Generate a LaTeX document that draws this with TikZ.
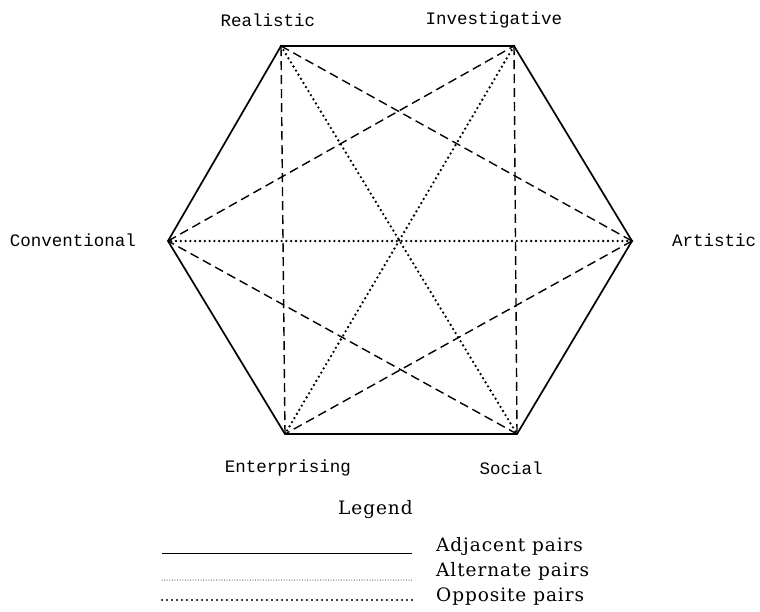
\documentclass[tikz,border=0pt]{standalone}
\usepackage{fontspec}
\newfontfamily\typefont{Liberation Mono}
\newfontfamily\legfont[LetterSpace=5]{DejaVu Serif}
\begin{document}
\begin{tikzpicture}[x=1pt,y=-1pt,
  adj/.style={line width=1.7pt},
  alt/.style={line width=1.4pt, dash pattern=on 9pt off 5pt},
  opp/.style={line width=2.6pt, line cap=round, dash pattern=on 0pt off 4.8pt},
  finedot/.style={line width=1pt, line cap=round, dash pattern=on 0pt off 2.6pt},
  thinline/.style={line width=1pt},
  lab/.style={font=\typefont\fontsize{17.5}{20}\selectfont, inner sep=0pt},
  legtext/.style={font=\legfont\fontsize{18.5}{20}\selectfont, anchor=base west, inner sep=0pt}]
\useasboundingbox (0,0) rectangle (760,611);
\coordinate (R) at (281,46);
\coordinate (I) at (514,46);
\coordinate (A) at (632,241);
\coordinate (S) at (517,434);
\coordinate (E) at (285,434);
\coordinate (C) at (168,241);
% adjacent
\draw[adj] (R)--(I)--(A)--(S)--(E)--(C)--cycle;
% alternate
\draw[alt] (R)--(A);
\draw[alt] (I)--(S);
\draw[alt] (A)--(E);
\draw[alt] (S)--(C);
\draw[alt] (E)--(R);
\draw[alt] (C)--(I);
% opposite
\draw[opp] (R)--(S);
\draw[opp] (I)--(E);
\draw[opp] (A)--(C);
% labels
\node[lab] (lR) at (268,20) {Realistic};
\node[lab] (lI) at (494,20) {Investigative};
\node[lab] (lC) at (73,240) {Conventional};
\node[lab] (lA) at (714,240) {Artistic};
\node[lab] (lE) at (288,468) {Enterprising};
\node[lab] (lS) at (511,468) {Social};
% legend
\node[legtext] (leg) at (338,514) {Legend};
\node[legtext] (tAdj) at (436,551) {Adjacent pairs};
\node[legtext] (tAlt) at (436,576) {Alternate pairs};
\node[legtext] (tOpp) at (436,601) {Opposite pairs};
\coordinate (a1) at (162,553); \coordinate (a2) at (412,553);
\coordinate (b1) at (162,580); \coordinate (b2) at (412,580);
\coordinate (c1) at (162,600); \coordinate (c2) at (412,600);
\draw[thinline] (a1)--(a2);
\draw[finedot] (b1)--(b2);
\draw[opp,line width=2.2pt,dash pattern=on 0pt off 5pt] (c1)--(c2);
\end{tikzpicture}
\end{document}
